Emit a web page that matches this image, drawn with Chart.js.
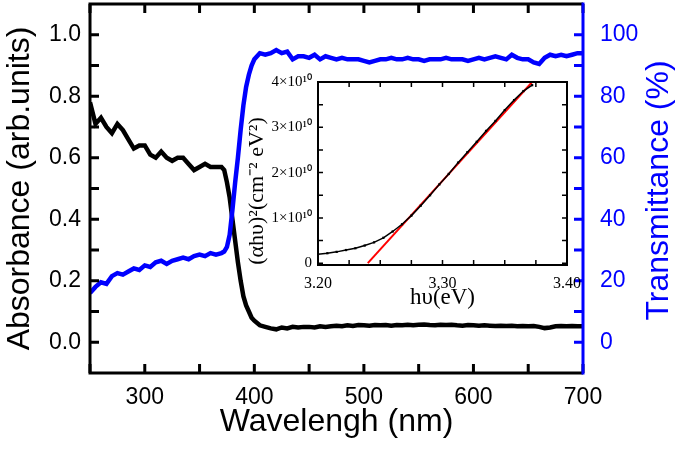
<!DOCTYPE html>
<html>
<head>
<meta charset="utf-8">
<script src="https://cdn.jsdelivr.net/npm/chart.js@4.4.0/dist/chart.umd.min.js"></script>
<style>
  body { margin: 0; background: #fff; }
  #wrap { position: relative; width: 675px; height: 449px; }
  #mainChart { position: absolute; left: 0; top: 0; }
  #insetChart { position: absolute; left: 240px; top: 70px; }
</style>
</head>
<body>
<div id="wrap">
  <canvas id="mainChart" width="675" height="449"></canvas>
  <canvas id="insetChart" width="350" height="250"></canvas>
</div>
<script>
// ================== Data (main plot) ==================
const wavelength = [
  250, 255, 260, 265, 270, 275, 280, 285, 290, 295, 300, 305, 310, 315, 320, 325, 330, 335, 340, 345,
  350, 355, 360, 365, 370, 372.5, 375, 377.5, 380, 382.5, 385, 387.5, 390, 392.5, 395, 397.5,
  400, 405, 410, 415, 420, 425, 430, 435, 440, 445, 450, 455, 460, 465, 470, 475, 480, 485, 490, 495,
  500, 505, 510, 515, 520, 525, 530, 535, 540, 545, 550, 555, 560, 565, 570, 575, 580, 585, 590, 595,
  600, 605, 610, 615, 620, 625, 630, 635, 640, 645, 650, 655, 660, 665, 670, 675, 680, 685, 690, 695, 700
];
const absorbance = [
  0.78, 0.71, 0.73, 0.70, 0.68, 0.71, 0.69, 0.66, 0.63, 0.64, 0.64, 0.61, 0.60, 0.62, 0.60, 0.59, 0.60, 0.60, 0.58, 0.56,
  0.57, 0.58, 0.57, 0.57, 0.57, 0.56, 0.52, 0.47, 0.40, 0.33, 0.26, 0.20, 0.15, 0.12, 0.10, 0.08,
  0.07, 0.055, 0.05, 0.045, 0.042, 0.048, 0.045, 0.05, 0.048, 0.05, 0.05, 0.048, 0.052, 0.05, 0.052, 0.054, 0.052, 0.055, 0.053, 0.056,
  0.055, 0.054, 0.056, 0.055, 0.056, 0.054, 0.056, 0.055, 0.057, 0.055, 0.057, 0.058, 0.056, 0.055, 0.057, 0.056, 0.057, 0.055, 0.054, 0.056,
  0.055, 0.054, 0.055, 0.054, 0.053, 0.054, 0.053, 0.054, 0.052, 0.053, 0.052, 0.053, 0.05, 0.046, 0.048, 0.052, 0.053, 0.052, 0.053, 0.052, 0.052
];
const transmittance = [
  16, 18, 19.5, 19, 21.5, 22.5, 22, 23, 24, 23.5, 25, 24.5, 26, 26.5, 25.5, 26.5, 27, 27.5, 27, 28,
  28.5, 28, 29, 28.5, 29, 29.5, 31, 35, 43, 52, 60, 69, 77, 83, 87, 90,
  92, 94, 93.5, 94, 95, 94, 94.5, 92, 93, 93, 92.5, 93.5, 92, 93, 92.5, 92, 92.5, 92, 92, 92,
  91.5, 91, 91.5, 92, 92, 92.5, 92, 92, 92.5, 92, 92, 91.5, 92, 92, 92, 92.5, 92, 92, 92, 91.5,
  92, 92.5, 92, 92.5, 93, 92.5, 92, 93.5, 92.5, 92, 92, 91, 90.5, 92.5, 93.5, 93, 93.5, 93, 93.5, 94, 94
];

// tick marks and labels
const xTicks = [250, 300, 350, 400, 450, 500, 550, 600, 650, 700];
const xTickLabels = ["300", "400", "500", "600", "700"];
const absTicks = [0, 0.1, 0.2, 0.3, 0.4, 0.5, 0.6, 0.7, 0.8, 0.9, 1.0];
const absTickLabels = ["0.0", "0.2", "0.4", "0.6", "0.8", "1.0"];
const trTicks = [0, 10, 20, 30, 40, 50, 60, 70, 80, 90, 100];
const trTickLabels = ["0", "20", "40", "60", "80", "100"];

// ================== Data (inset, Tauc plot) ==================
const photonEnergy = [
  3.200, 3.2075, 3.215, 3.2225, 3.230, 3.2375, 3.245, 3.2525, 3.260, 3.2675, 3.275, 3.2825,
  3.290, 3.2975, 3.305, 3.3125, 3.320, 3.3275, 3.335, 3.3425, 3.350, 3.3575, 3.365, 3.372
];
// (alpha h nu)^2 in units of 1e10 cm^-2 eV^2
const ahv2 = [
  0.20, 0.22, 0.25, 0.29, 0.33, 0.39, 0.46, 0.56, 0.70, 0.86, 1.05, 1.27,
  1.50, 1.74, 1.97, 2.22, 2.45, 2.68, 2.92, 3.14, 3.38, 3.60, 3.80, 3.93
];
const fitEnergy = [3.24, 3.372];
const fitValue = [0, 4.0];

const insetXTicks = [3.2, 3.225, 3.25, 3.275, 3.3, 3.325, 3.35, 3.375, 3.4];
const insetXLabels = ["3.20", "3.30", "3.40"];
const insetYTicks = [0, 0.5, 1, 1.5, 2, 2.5, 3, 3.5, 4];
const insetYLabelVals = [0, 1, 2, 3, 4];
const insetYLabels = ["0", "1×10¹⁰", "2×10¹⁰", "3×10¹⁰", "4×10¹⁰"];

// ================== Styles ==================
const SANS = '"Liberation Sans", Arial, sans-serif';
const SERIF = '"Liberation Serif", "Times New Roman", serif';
const BLUE = "#0000ff";

function pts(xs, ys) {
  return xs.map((x, i) => ({ x: x, y: ys[i] }));
}

// bỏ phần đệm tự động quanh nhãn để khung nằm đúng chỗ
function fixPad(sc) {
  sc.paddingTop = 0;
  sc.paddingBottom = 0;
  sc.paddingLeft = 0;
  sc.paddingRight = 0;
}

// khung + vạch chia hướng vào trong cho biểu đồ chính
const mainFrame = {
  id: "mainFrame",
  afterDatasetsDraw(chart) {
    const ctx = chart.ctx, a = chart.chartArea, s = chart.scales;
    const tl = 9;
    ctx.save();
    ctx.lineWidth = 3;
    ctx.strokeStyle = "#000";
    ctx.beginPath();
    xTicks.forEach(v => {
      const px = s.x.getPixelForValue(v);
      ctx.moveTo(px, a.bottom); ctx.lineTo(px, a.bottom - tl);
      ctx.moveTo(px, a.top); ctx.lineTo(px, a.top + tl);
    });
    absTicks.forEach(v => {
      const py = s.y.getPixelForValue(v);
      ctx.moveTo(a.left, py); ctx.lineTo(a.left + tl, py);
    });
    ctx.stroke();
    ctx.beginPath();
    ctx.moveTo(a.right, a.top);
    ctx.lineTo(a.left, a.top);
    ctx.lineTo(a.left, a.bottom);
    ctx.lineTo(a.right, a.bottom);
    ctx.stroke();

    ctx.strokeStyle = BLUE;
    ctx.beginPath();
    trTicks.forEach(v => {
      const py = s.y1.getPixelForValue(v);
      ctx.moveTo(a.right, py); ctx.lineTo(a.right - tl, py);
    });
    ctx.moveTo(a.right, a.top - 1.5);
    ctx.lineTo(a.right, a.bottom + 1.5);
    ctx.stroke();

    // tiêu đề trục phải, đọc từ dưới lên
    ctx.fillStyle = BLUE;
    ctx.font = "32px " + SANS;
    ctx.textAlign = "center";
    ctx.textBaseline = "alphabetic";
    ctx.translate(668, (a.top + a.bottom) / 2 + 2);
    ctx.rotate(-Math.PI / 2);
    ctx.fillText("Transmittance (%)", 0, 0);
    ctx.restore();
  }
};

// khung cho inset
const insetFrame = {
  id: "insetFrame",
  afterDatasetsDraw(chart) {
    const ctx = chart.ctx, a = chart.chartArea, s = chart.scales;
    const tl = 5;
    ctx.save();
    ctx.strokeStyle = "#000";
    ctx.lineWidth = 1.5;
    ctx.beginPath();
    insetXTicks.forEach(v => {
      const px = s.x.getPixelForValue(v);
      ctx.moveTo(px, a.bottom); ctx.lineTo(px, a.bottom - tl);
      ctx.moveTo(px, a.top); ctx.lineTo(px, a.top + tl);
    });
    insetYTicks.forEach(v => {
      const py = s.y.getPixelForValue(v);
      ctx.moveTo(a.left, py); ctx.lineTo(a.left + tl, py);
      ctx.moveTo(a.right, py); ctx.lineTo(a.right - tl, py);
    });
    ctx.stroke();
    ctx.lineWidth = 2;
    ctx.strokeRect(a.left, a.top, a.right - a.left, a.bottom - a.top);

    ctx.fillStyle = "#000";
    ctx.font = "22px " + SERIF;
    ctx.textAlign = "center";
    ctx.textBaseline = "middle";
    ctx.translate(17, 121);
    ctx.rotate(-Math.PI / 2);
    ctx.fillText("(αhυ)²(cm⁻² eV²)", 0, 0);
    ctx.restore();
  }
};

// ================== Main chart ==================
new Chart(document.getElementById("mainChart"), {
  type: "line",
  data: {
    datasets: [
      {
        label: "Transmittance",
        data: pts(wavelength, transmittance),
        yAxisID: "y1",
        borderColor: BLUE,
        borderWidth: 4.5,
        pointRadius: 0,
        tension: 0
      },
      {
        label: "Absorbance",
        data: pts(wavelength, absorbance),
        yAxisID: "y",
        borderColor: "#000",
        borderWidth: 4.5,
        pointRadius: 0,
        tension: 0
      }
    ]
  },
  options: {
    responsive: false,
    animation: false,
    layout: { padding: { top: 4 } },
    plugins: { legend: { display: false }, tooltip: { enabled: false } },
    scales: {
      x: {
        type: "linear", position: "bottom", min: 250, max: 700,
        grid: { display: false, drawTicks: false },
        border: { display: false },
        ticks: {
          stepSize: 50, autoSkip: false, maxRotation: 0, padding: 11,
          color: "#000", font: { family: SANS, size: 23 },
          callback: v => xTickLabels.includes(String(v)) ? String(v) : ""
        },
        title: {
          display: true, text: "Wavelengh (nm)", color: "#000",
          font: { family: SANS, size: 32 }, padding: { top: 0, bottom: 8 }
        },
        afterFit: sc => { sc.height = 76; fixPad(sc); }
      },
      y: {
        type: "linear", position: "left", min: -0.1, max: 1.1,
        grid: { display: false, drawTicks: false },
        border: { display: false },
        ticks: {
          stepSize: 0.1, autoSkip: false, padding: 9,
          color: "#000", font: { family: SANS, size: 23 },
          callback: v => absTickLabels.includes(v.toFixed(1)) ? v.toFixed(1) : ""
        },
        title: {
          display: true, text: "Absorbance (arb.units)", color: "#000",
          font: { family: SANS, size: 32 }, padding: { top: 1, bottom: 0 }
        },
        afterFit: sc => { sc.width = 90; fixPad(sc); }
      },
      y1: {
        type: "linear", position: "right", min: -10, max: 110,
        grid: { display: false, drawTicks: false },
        border: { display: false },
        ticks: {
          stepSize: 10, autoSkip: false, padding: 17,
          color: BLUE, font: { family: SANS, size: 23 },
          callback: v => trTickLabels.includes(String(v)) ? String(v) : ""
        },
        afterFit: sc => { sc.width = 92; fixPad(sc); }
      }
    }
  },
  plugins: [mainFrame]
});

// ================== Inset chart ==================
new Chart(document.getElementById("insetChart"), {
  type: "line",
  data: {
    datasets: [
      {
        label: "data",
        data: pts(photonEnergy, ahv2),
        borderColor: "#000",
        backgroundColor: "#000",
        borderWidth: 1.5,
        pointStyle: "rect",
        pointRadius: 1.6,
        pointBorderWidth: 0,
        tension: 0
      },
      {
        label: "fit",
        data: pts(fitEnergy, fitValue),
        borderColor: "#ff0000",
        borderWidth: 2,
        pointRadius: 0,
        tension: 0
      }
    ]
  },
  options: {
    responsive: false,
    animation: false,
    layout: { padding: { top: 12, right: 23 } },
    plugins: { legend: { display: false }, tooltip: { enabled: false } },
    scales: {
      x: {
        type: "linear", min: 3.2, max: 3.4,
        grid: { display: false, drawTicks: false },
        border: { display: false },
        ticks: {
          stepSize: 0.05, autoSkip: false, maxRotation: 0, padding: 9,
          color: "#000", font: { family: SERIF, size: 16 },
          callback: v => insetXLabels.includes(v.toFixed(2)) ? v.toFixed(2) : ""
        },
        title: {
          display: true, text: "hυ(eV)", color: "#000",
          font: { family: SERIF, size: 23 }, padding: { top: 0, bottom: 8 }
        },
        afterFit: sc => { sc.height = 55; fixPad(sc); }
      },
      y: {
        type: "linear", min: -0.04, max: 4.0,
        grid: { display: false, drawTicks: false },
        border: { display: false },
        ticks: {
          stepSize: 0.5, includeBounds: false, autoSkip: false, padding: 6,
          color: "#000", font: { family: SERIF, size: 15 },
          callback: v => {
            const i = insetYLabelVals.indexOf(v);
            return i >= 0 ? insetYLabels[i] : "";
          }
        },
        afterFit: sc => { sc.width = 78; fixPad(sc); }
      }
    }
  },
  plugins: [insetFrame]
});
</script>
</body>
</html>
